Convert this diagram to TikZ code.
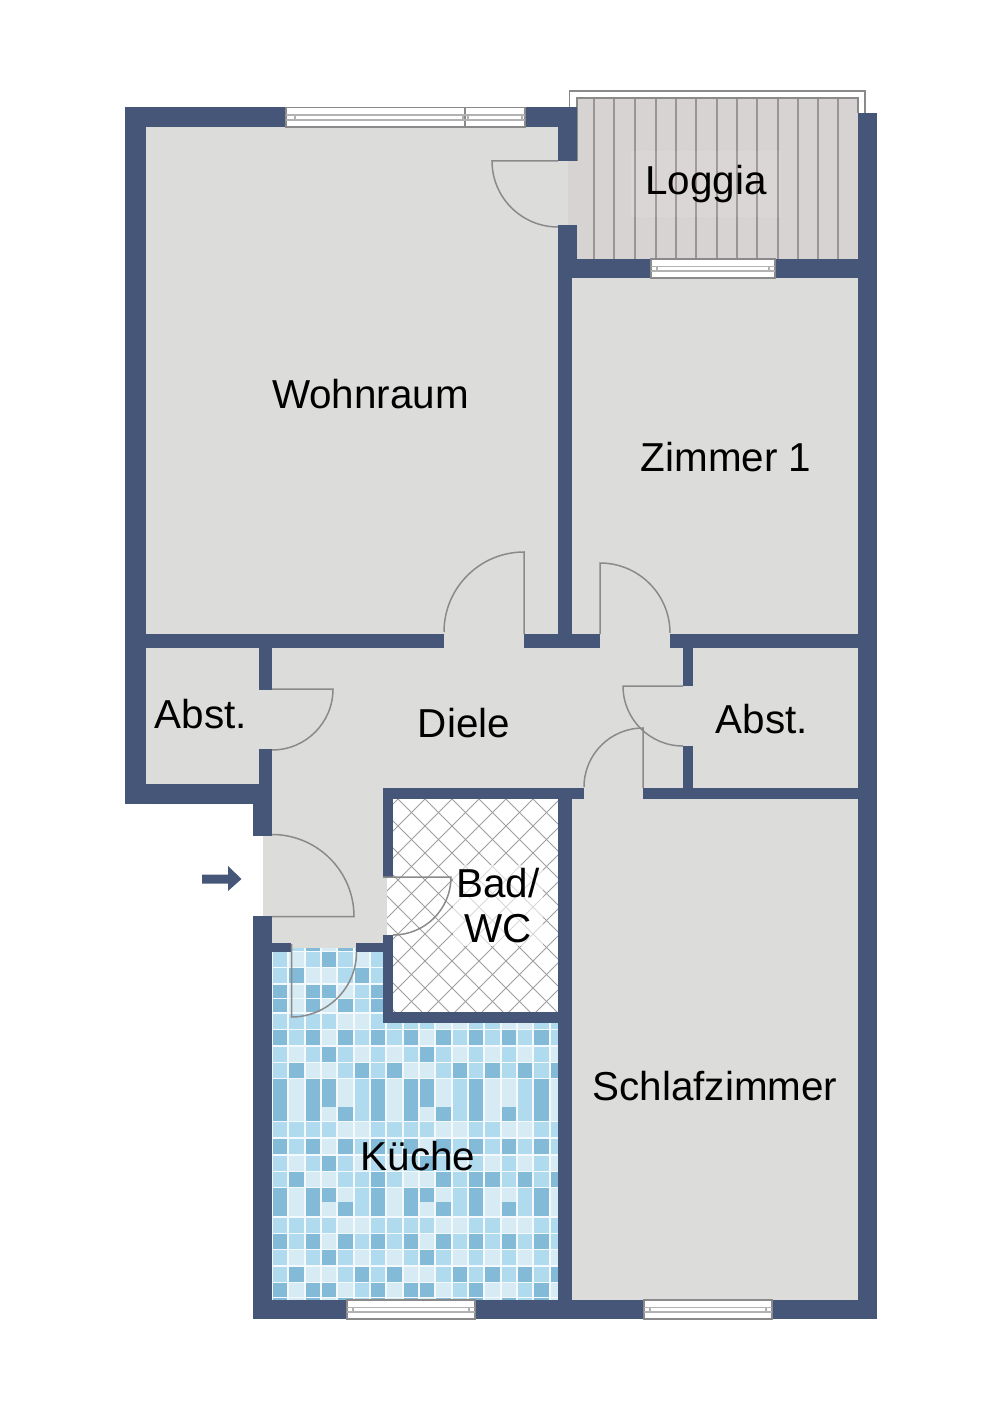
\documentclass[tikz,border=0pt]{standalone}
\usepackage{fontspec}
\setmainfont{Liberation Sans}
\definecolor{wallblue}{HTML}{465678}
\definecolor{roomgray}{HTML}{DCDCDA}
\definecolor{plank}{HTML}{D8D3D3}
\definecolor{plankline}{HTML}{9A9494}
\definecolor{edgegray}{HTML}{8A8A8A}
\definecolor{grout}{HTML}{F3F9FC}
\definecolor{tilelight}{HTML}{D6EBF4}
\definecolor{tilemid}{HTML}{B0DAEE}
\definecolor{tiledark}{HTML}{82BAD8}
\tikzset{
  roomlabel/.style={font=\fontsize{23}{25.5}\selectfont, text=black, inner sep=0pt, align=center},
  wall/.style={fill=wallblue},
  doorline/.style={draw=edgegray, line width=0.85pt},
  hatchline/.style={draw=black!38, line width=0.55pt},
  tile0/.style={fill=tilelight},
  tile1/.style={fill=tilemid},
  tile2/.style={fill=tiledark},
}
\newcommand{\tilesA}{2,1,2,0,2,1,2,1,2,0,2,1,2,1,2,1,2,1}
\newcommand{\tilesB}{1,0,1,2,1,0,1,0,1,2,1,0,1,0,1,0,1,0}
\newcommand{\tilesC}{1,2,0,0,1,2,1,2,0,0,1,2,1,2,1,2,1,2}
\newcommand{\tilesG}{1,2,0,0,1,1,2,1,0,0,2,1,2,2,1,2,1,2}
\newcommand{\tilesD}{2,0,2,2,0,1,2,0,2,2,0,1,2,0,0,1,2,0}
\newcommand{\tilesE}{2,0,2,0,2,1,2,0,2,0,2,1,2,0,2,1,2,0}
\newcommand{\tilesF}{1,1,1,1,0,0,1,1,1,1,0,0,1,1,0,0,1,1}
\begin{document}
\begin{tikzpicture}[x=0.02cm, y=-0.02cm]
  \useasboundingbox (0,0) rectangle (1000,1415);
  \fill[roomgray] (146,127) -- (558,127) -- (558,161) -- (568,161) -- (568,225) -- (558,225) -- (558,278)
    -- (858,278) -- (858,1300) -- (272,1300) -- (272,916) -- (263,916) -- (263,836) -- (272,836)
    -- (272,804) -- (146,804) -- cycle;
  \begin{scope}
    \clip (272,948) -- (383,948) -- (383,1023) -- (558,1023) -- (558,1300) -- (272,1300) -- cycle;
    \fill[grout] (272,930) rectangle (558,1300);
    \foreach \y/\h/\tiles in {936/14.5/\tilesA, 952/14.5/\tilesB, 968/14.5/\tilesC, 984.5/13.5/\tilesD,
        998.5/13.5/\tilesE, 1014/14.5/\tilesF, 1030/14.5/\tilesA, 1047/14.5/\tilesB, 1063/14.5/\tilesC,
        1079/13.5/\tilesD, 1093/13.5/\tilesD, 1107/13.5/\tilesE, 1122/14.5/\tilesF, 1139/14.5/\tilesA,
        1156/14.5/\tilesB, 1172/14.5/\tilesG, 1188/13.5/\tilesD, 1202/13.5/\tilesE, 1218/14.5/\tilesF,
        1234/14.5/\tilesA, 1250/14.5/\tilesB, 1267/14.5/\tilesC, 1283/13.5/\tilesD, 1298/13.5/\tilesE} {
      \edef\tilelist{\tiles}
      \foreach \c [count=\k from 0] in \tilelist {
        \fill[tile\c] ({273+16.33*\k},\y) rectangle ++(14.3,\h);
      }
    }
  \end{scope}
  \fill[white] (393,799) rectangle (558,1012);
  \fill[white] (387,877) rectangle (393,935);
  \begin{scope}
    \clip (393,799) rectangle (558,1012) (387,877) rectangle (393,935);
    \foreach \k in {-9,...,9} {
      \draw[hatchline] ({398+27*\k},799) -- ++(240,240);
    }
    \foreach \k in {0,...,16} {
      \draw[hatchline] ({398+27*\k},799) -- ++(-240,240);
    }
  \end{scope}
  \fill[plank] (568,161) rectangle (577,225);
  \fill[plank] (577,98) rectangle (858,259);
  \foreach \x in {594,614,635,656,676,696,717,737,757,778,798,818,838} {
    \draw[plankline, line width=0.6pt] (\x,98) -- (\x,259);
  }
  \draw[edgegray, line width=0.7pt] (577,161) |- (858,98) -- (858,113);
  \draw[edgegray, line width=0.8pt] (569.5,107) |- (865,91) -- (865,113);
  \foreach \xa/\ya/\xb/\yb in {125/107/146/804, 125/107/286/127, 525/107/577/127, 558/107/577/161,
      558/225/577/278, 558/259/651/278, 775/259/877/278, 858/113/877/1319, 558/278/572/634,
      125/634/444/648, 524/634/600/648, 670/634/877/648, 259/648/272/690, 259/749/272/804,
      125/784/272/804, 253/804/272/836, 253/916/272/1319, 253/1300/347/1319, 475/1300/644/1319,
      772/1300/877/1319, 683/648/693/686, 683/746/693/788, 383/788/584/799, 643/788/877/799,
      558/788/572/1300, 383/788/393/877, 383/935/393/1023, 383/1012/558/1023, 272/943/291/952,
      356/943/383/952} {
    \fill[wall] (\xa,\ya) rectangle (\xb,\yb);
  }
  \foreach \xa/\xb/\y in {651/775/259, 347/475/1300, 644/772/1300} {
    \fill[white] (\xa,\y) rectangle (\xb,\y+19);
    \draw[edgegray, line width=0.7pt] (\xa,\y) rectangle (\xb,\y+19);
    \draw[black!30, line width=0.6pt] (\xa,\y+7.5) -- (\xb,\y+7.5) (\xa,\y+12) -- (\xb,\y+12)
      (\xa+6,\y+7.5) -- (\xa+6,\y+12) (\xb-6,\y+7.5) -- (\xb-6,\y+12);
  }
  \fill[white] (286,107.5) rectangle (525,127);
  \draw[edgegray, line width=0.7pt] (286,107.5) rectangle (525,127) (465,107.5) -- (465,127);
  \draw[black!30, line width=0.6pt] (286,115) -- (525,115) (286,120) -- (525,120)
    (295,115) -- (295,120) (463,115) -- (463,120) (468,115) -- (468,120) (522,115) -- (522,120);
  \begin{scope}[every path/.style={doorline}]
    \draw (558,161) -- (492,161) arc[start angle=180, end angle=90, radius=66];
    \draw (524,634) -- (524,552) arc[start angle=-90, end angle=-180, radius=80];
    \draw (600,634) -- (600,563) arc[start angle=-90, end angle=0, radius=70];
    \draw (272,689) -- (333,689) arc[start angle=0, end angle=90, radius=61];
    \draw (683,686) -- (623,686) arc[start angle=180, end angle=90, radius=60];
    \draw (643,788) -- (643,728) arc[start angle=-90, end angle=-180, radius=59];
    \draw (272,916.5) -- (354,916.5) arc[start angle=0, end angle=-90, radius=82];
    \draw (383,877) -- (451,877) arc[start angle=0, end angle=90, radius=58];
    \draw (291.5,944) -- (291.5,1017) arc[start angle=90, end angle=0, radius=65];
  \end{scope}
  \fill[wall] (202,874.5) -- (228,874.5) -- (228,866) -- (241.5,879) -- (228,891) -- (228,883.5) -- (202,883.5) -- cycle;
  \begin{scope}[every node/.style={roomlabel}]
    \node (wohnraum) at (370.5,394) {Wohnraum};
    \node (zimmer) at (726,457.5) {Zimmer 1};
    \node[fill=white, fill opacity=0.07, text opacity=1, inner sep=8pt] (loggia) at (706,184) {Loggia};
    \node (abstleft) at (201,714.5) {Abst.};
    \node (diele) at (464,723) {Diele};
    \node (abstright) at (762,719.5) {Abst.};
    \node[fill=white, fill opacity=0.6, text opacity=1, inner sep=2pt] (bad) at (498,905.5) {Bad/\\WC};
    \node (schlaf) at (715,1086) {Schlafzimmer};
    \node (kueche) at (418,1156) {Küche};
  \end{scope}
\end{tikzpicture}
\end{document}
